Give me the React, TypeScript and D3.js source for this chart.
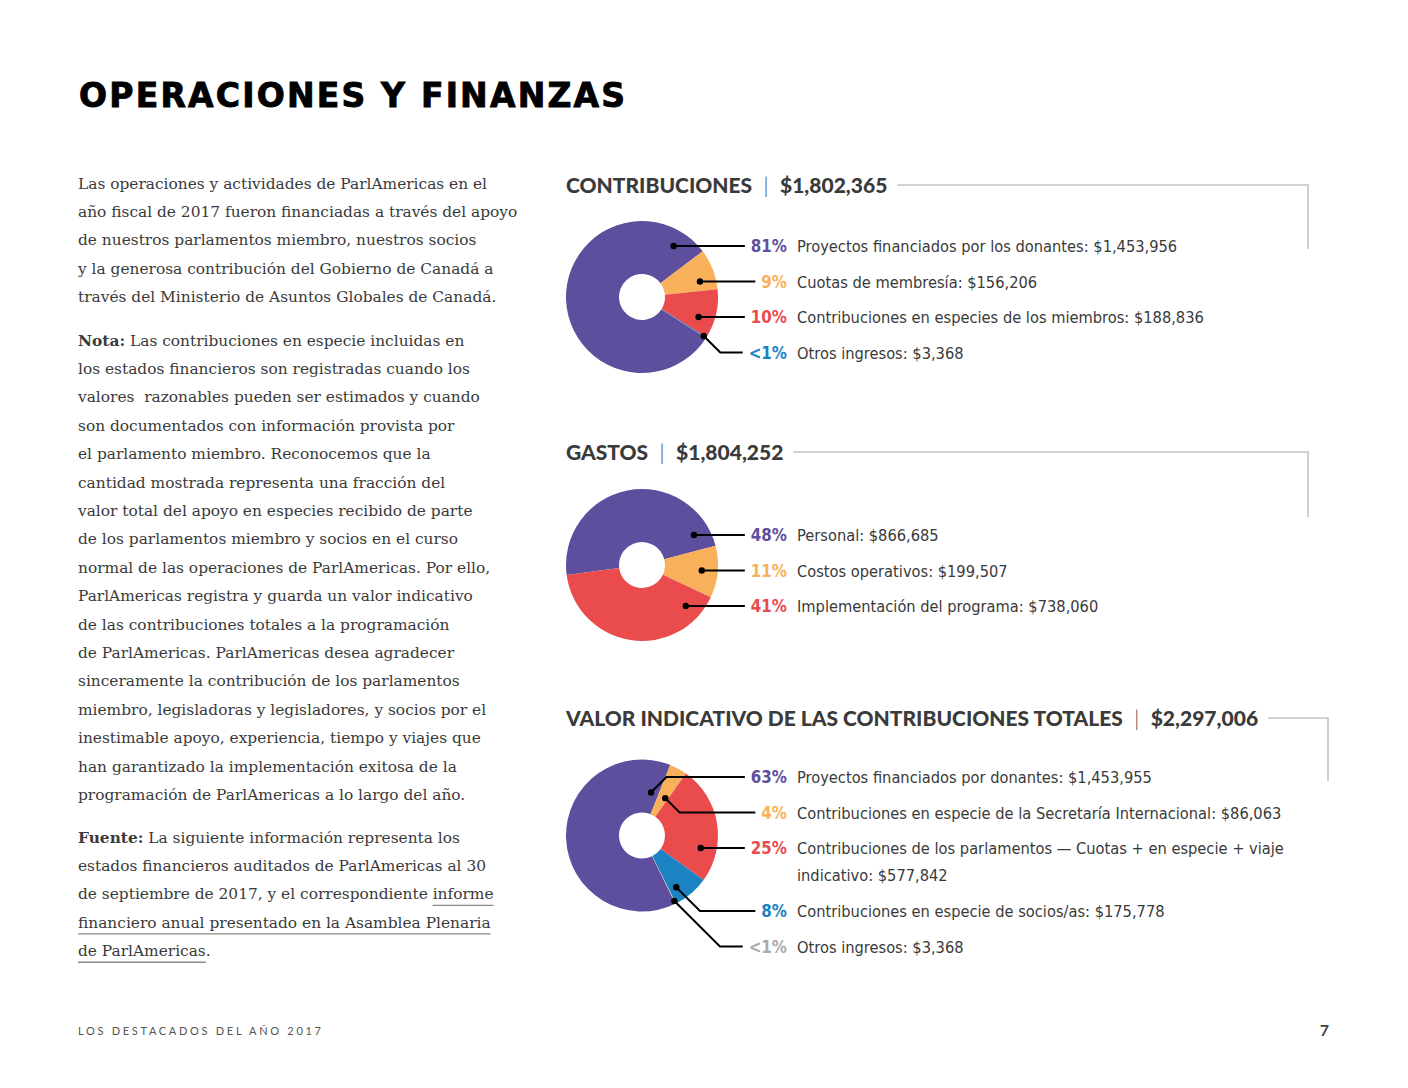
import React, { useEffect, useRef } from "react";
import * as d3 from "d3";

const W = 1408;
const H = 1088;

// ---------- text content ----------
const titleText = "OPERACIONES Y FINANZAS";
const footerText = "LOS DESTACADOS DEL AÑO 2017";
const pageNumber = "7";

type Seg = { t: string; b?: boolean; u?: boolean };
const paragraph1: Seg[][] = [
  [{ t: "Las operaciones y actividades de ParlAmericas en el" }],
  [{ t: "año fiscal de 2017 fueron financiadas a través del apoyo" }],
  [{ t: "de nuestros parlamentos miembro, nuestros socios" }],
  [{ t: "y la generosa contribución del Gobierno de Canadá a" }],
  [{ t: "través del Ministerio de Asuntos Globales de Canadá." }],
];
const paragraph2: Seg[][] = [
  [{ t: "Nota:", b: true }, { t: " Las contribuciones en especie incluidas en" }],
  [{ t: "los estados financieros son registradas cuando los" }],
  [{ t: "valores  razonables pueden ser estimados y cuando" }],
  [{ t: "son documentados con información provista por" }],
  [{ t: "el parlamento miembro. Reconocemos que la" }],
  [{ t: "cantidad mostrada representa una fracción del" }],
  [{ t: "valor total del apoyo en especies recibido de parte" }],
  [{ t: "de los parlamentos miembro y socios en el curso" }],
  [{ t: "normal de las operaciones de ParlAmericas. Por ello," }],
  [{ t: "ParlAmericas registra y guarda un valor indicativo" }],
  [{ t: "de las contribuciones totales a la programación" }],
  [{ t: "de ParlAmericas. ParlAmericas desea agradecer" }],
  [{ t: "sinceramente la contribución de los parlamentos" }],
  [{ t: "miembro, legisladoras y legisladores, y socios por el" }],
  [{ t: "inestimable apoyo, experiencia, tiempo y viajes que" }],
  [{ t: "han garantizado la implementación exitosa de la" }],
  [{ t: "programación de ParlAmericas a lo largo del año." }],
];
const paragraph3: Seg[][] = [
  [{ t: "Fuente:", b: true }, { t: " La siguiente información representa los" }],
  [{ t: "estados financieros auditados de ParlAmericas al 30" }],
  [{ t: "de septiembre de 2017, y el correspondiente " }, { t: "informe", u: true }],
  [{ t: "financiero anual presentado en la Asamblea Plenaria", u: true }],
  [{ t: "de ParlAmericas", u: true }, { t: "." }],
];

// ---------- chart data ----------
const contribTitle = "CONTRIBUCIONES";
const contribTotal = "$1,802,365";
const contribCategories = [
  "Proyectos financiados por los donantes",
  "Cuotas de membresía",
  "Contribuciones en especies de los miembros",
  "Otros ingresos",
];
const contribValues = [1453956, 156206, 188836, 3368];
const contribPercents = ["81%", "9%", "10%", "<1%"];

const gastosTitle = "GASTOS";
const gastosTotal = "$1,804,252";
const gastosCategories = ["Personal", "Costos operativos", "Implementación del programa"];
const gastosValues = [866685, 199507, 738060];
const gastosPercents = ["48%", "11%", "41%"];

const valorTitle = "VALOR INDICATIVO DE LAS CONTRIBUCIONES TOTALES";
const valorTotal = "$2,297,006";
const valorCategories = [
  "Proyectos financiados por donantes",
  "Contribuciones en especie de la Secretaría Internacional",
  "Contribuciones de los parlamentos — Cuotas + en especie + viaje indicativo",
  "Contribuciones en especie de socios/as",
  "Otros ingresos",
];
const valorValues = [1453955, 86063, 577842, 175778, 3368];
const valorPercents = ["63%", "4%", "25%", "8%", "<1%"];

// ---------- styles ----------
const PURPLE = "#5e4f9e";
const ORANGE = "#f9b05a";
const RED = "#ea4b4c";
const BLUE = "#1b83c1";
const GREY = "#aaaaaa";
const TEXT = "#3a3a3a";

const LEGEND_FONT = "'Liberation Sans Narrow', 'DejaVu Sans Condensed', Roboto, sans-serif";
const HEAD_FONT = "Lato, 'Open Sans', sans-serif";
const TITLE_FONT = "'DejaVu Sans', sans-serif";
const BODY_FONT = "'DejaVu Serif', serif";

type ChartCfg = {
  title: string;
  total: string;
  categories: string[];
  values: number[];
  percents: string[];
  colors: string[];
  headerY: number;
  cornerX: number;
  cornerDrop: number;
  cx: number;
  cy: number;
  firstRowY: number;
  boundaryDeg: number; // angle where slice #2 begins
};

const charts: ChartCfg[] = [
  {
    title: contribTitle, total: contribTotal, categories: contribCategories, values: contribValues,
    percents: contribPercents, colors: [PURPLE, ORANGE, RED, BLUE],
    headerY: 185, cornerX: 1308, cornerDrop: 64, cx: 642, cy: 297, firstRowY: 246, boundaryDeg: 53,
  },
  {
    title: gastosTitle, total: gastosTotal, categories: gastosCategories, values: gastosValues,
    percents: gastosPercents, colors: [PURPLE, ORANGE, RED],
    headerY: 452, cornerX: 1308, cornerDrop: 65, cx: 642, cy: 565, firstRowY: 535, boundaryDeg: 75.4,
  },
  {
    title: valorTitle, total: valorTotal, categories: valorCategories, values: valorValues,
    percents: valorPercents, colors: [PURPLE, ORANGE, RED, BLUE, GREY],
    headerY: 718, cornerX: 1328, cornerDrop: 63, cx: 642, cy: 835.5, firstRowY: 777, boundaryDeg: 21.8,
  },
];

const R_OUT = 76;
const R_IN = 23;
const PCT_RIGHT = 787;
const LABEL_X = 797;
const LABEL_MAX = 492;
const ROW_STEP = 35.5;
const WRAP_STEP = 26.5;
const FS = 16.3;

const fmt = d3.format("$,");

function drawChart(svg: d3.Selection<SVGSVGElement, unknown, null, undefined>, c: ChartCfg) {
  const g = svg.append("g");

  // header
  const head = g.append("text")
    .attr("x", 566).attr("y", c.headerY + 7.5)
    .attr("font-family", HEAD_FONT).attr("font-size", 21).attr("fill", TEXT)
    .style("white-space", "pre");
  head.append("tspan").attr("font-weight", 900).text(c.title);
  head.append("tspan").attr("font-weight", 300).text("  |  ");
  head.append("tspan").attr("font-weight", 900).text(c.total);
  const hw = (head.node() as SVGTextElement).getComputedTextLength();
  g.append("path")
    .attr("d", `M${566 + hw + 10},${c.headerY}H${c.cornerX}V${c.headerY + c.cornerDrop}`)
    .attr("fill", "none").attr("stroke", "#c4c4c4").attr("stroke-width", 1.6);

  // donut
  const total = d3.sum(c.values);
  const a0 = (c.values[0] / total) * 2 * Math.PI;
  const start = (c.boundaryDeg * Math.PI) / 180 - a0;
  const pie = d3.pie<number>().sort(null).value((d) => d).startAngle(start).endAngle(start + 2 * Math.PI);
  const arcs = pie(c.values);
  const arc = d3.arc<d3.PieArcDatum<number>>().innerRadius(R_IN).outerRadius(R_OUT);
  g.append("g").attr("transform", `translate(${c.cx},${c.cy})`)
    .selectAll("path").data(arcs).join("path")
    .attr("d", (d) => arc(d) as string)
    .attr("fill", (_d, i) => c.colors[i]);

  // legend
  let rowY = c.firstRowY;
  arcs.forEach((d, i) => {
    const pct = g.append("text")
      .attr("x", PCT_RIGHT).attr("y", rowY + 6)
      .attr("text-anchor", "end").attr("font-family", LEGEND_FONT).attr("font-weight", 700)
      .attr("font-size", FS + 0.5).attr("fill", c.colors[i]).text(c.percents[i]);
    const pw = (pct.node() as SVGTextElement).getComputedTextLength();

    // label with wrapping
    const full = `${c.categories[i]}: ${fmt(c.values[i])}`;
    const words = full.split(" ");
    const lbl = g.append("text").attr("font-family", LEGEND_FONT).attr("font-size", FS).attr("fill", TEXT);
    let line: string[] = [];
    let ly = rowY + 6;
    let tsp = lbl.append("tspan").attr("x", LABEL_X).attr("y", ly);
    let extraLines = 0;
    words.forEach((w) => {
      line.push(w);
      tsp.text(line.join(" "));
      if ((tsp.node() as SVGTSpanElement).getComputedTextLength() > LABEL_MAX && line.length > 1) {
        line.pop();
        tsp.text(line.join(" "));
        line = [w];
        ly += WRAP_STEP;
        extraLines++;
        tsp = lbl.append("tspan").attr("x", LABEL_X).attr("y", ly).text(w);
      }
    });

    // dot placement
    const s = d.startAngle, e = d.endAngle, span = e - s;
    const dy = rowY - c.cy;
    const rd = 60;
    let ang: number, rad: number;
    if (span < 0.05) {
      ang = (s + e) / 2;
      rad = R_OUT - 3;
    } else {
      let t = Math.abs(dy) < rd ? Math.acos(-dy / rd) : dy > 0 ? Math.PI : 0;
      const mid = (s + e) / 2;
      while (t < mid - Math.PI) t += 2 * Math.PI;
      while (t > mid + Math.PI) t -= 2 * Math.PI;
      const m = Math.min(span * 0.25, (10 * Math.PI) / 180);
      if (t >= s + m && t <= e - m && Math.abs(dy) < rd) {
        ang = t; rad = rd;
      } else {
        ang = Math.max(s + m, Math.min(e - m, t));
        rad = Math.abs(dy) < rd ? 44 : 62;
      }
    }
    const px = c.cx + Math.sin(ang) * rad;
    const py = c.cy - Math.cos(ang) * rad;
    const lineEnd = PCT_RIGHT - pw - 6;
    const ddy = rowY - py;
    const pts: [number, number][] = Math.abs(ddy) < 1.5
      ? [[px, rowY], [lineEnd, rowY]]
      : [[px, py], [px + Math.abs(ddy), rowY], [lineEnd, rowY]];
    g.append("path").attr("d", d3.line()(pts) as string)
      .attr("fill", "none").attr("stroke", "#000").attr("stroke-width", 2);
    g.append("circle").attr("cx", px).attr("cy", Math.abs(ddy) < 1.5 ? rowY : py).attr("r", 3.2).attr("fill", "#000");

    rowY += ROW_STEP + extraLines * WRAP_STEP + (extraLines ? 1 : 0);
  });
}

function drawParagraph(svg: d3.Selection<SVGSVGElement, unknown, null, undefined>, lines: Seg[][], y0: number, step: number) {
  lines.forEach((segs, li) => {
    const y = y0 + li * step;
    const t = svg.append("text").attr("x", 78).attr("y", y)
      .attr("font-family", BODY_FONT).attr("font-size", 15.4).attr("fill", TEXT)
      .style("white-space", "pre");
    const spans = segs.map((sg) => t.append("tspan").attr("font-weight", sg.b ? 700 : 400).text(sg.t));
    segs.forEach((sg, si) => {
      if (!sg.u) return;
      const node = spans[si].node() as SVGTSpanElement;
      const n = sg.t.length;
      const x1 = node.getStartPositionOfChar(0).x;
      const x2 = node.getEndPositionOfChar(n - 1).x;
      svg.append("line").attr("x1", x1).attr("x2", x2).attr("y1", y + 6).attr("y2", y + 6)
        .attr("stroke", "#8a8a8a").attr("stroke-width", 1.4);
    });
  });
}

export default function App() {
  const ref = useRef<SVGSVGElement>(null);
  useEffect(() => {
    const svg = d3.select(ref.current as SVGSVGElement);
    svg.selectAll("*").remove();

    svg.append("rect").attr("width", W).attr("height", H).attr("fill", "#fff");

    svg.append("text").attr("x", 79).attr("y", 106.5)
      .attr("font-family", TITLE_FONT).attr("font-weight", 700).attr("font-size", 33)
      .attr("letter-spacing", 2.2).attr("stroke", "#000").attr("stroke-width", 0.9)
      .attr("fill", "#000").text(titleText);

    drawParagraph(svg, paragraph1, 188.5, 28.45);
    drawParagraph(svg, paragraph2, 345.5, 28.4);
    drawParagraph(svg, paragraph3, 842.5, 28.45);

    charts.forEach((c) => drawChart(svg, c));

    svg.append("text").attr("x", 78).attr("y", 1035)
      .attr("font-family", HEAD_FONT).attr("font-size", 11).attr("letter-spacing", 2.7)
      .attr("fill", "#555").text(footerText);
    svg.append("text").attr("x", 1329).attr("y", 1036).attr("text-anchor", "end")
      .attr("font-family", HEAD_FONT).attr("font-weight", 700).attr("font-size", 16)
      .attr("fill", "#444").text(pageNumber);
  }, []);
  return (
    <svg ref={ref} width={W} height={H}
      style={{ position: "absolute", left: 0, top: 0, display: "block" }} />
  );
}
